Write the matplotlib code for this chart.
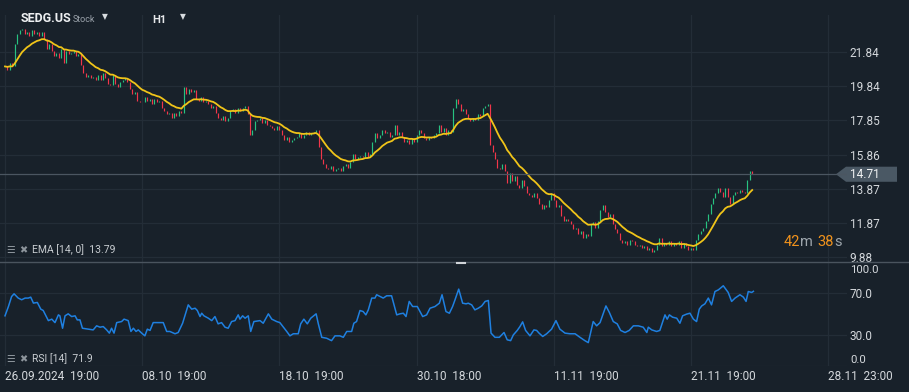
import numpy as np
import pandas as pd
import matplotlib
matplotlib.use("Agg")
import matplotlib.pyplot as plt
import matplotlib.transforms as mtransforms
from matplotlib.patches import Polygon
from matplotlib.lines import Line2D

plt.rcParams['font.family'] = ['Roboto', 'DejaVu Sans']

# hourly closes, one row ~ one trading day
closes = [
    21.0, 20.8, 21.2, 21.0, 22.3, 22.9, 23.1,
    23.2, 22.9, 23.0, 22.8, 23.1, 22.9, 23.0,
    22.8, 23.0, 22.6, 22.0, 22.3, 21.9, 21.6,
    21.8, 21.5, 22.0, 21.2, 21.9, 21.7, 21.8,
    21.9, 21.6, 21.7, 21.1, 20.6, 20.4, 20.5,
    20.3, 20.4, 20.2, 20.5, 20.2, 20.6, 20.3,
    20.0, 19.9, 20.5, 20.0, 19.8, 20.1, 20.2,
    20.3, 20.1, 19.7, 19.4, 19.5, 19.0, 18.9,
    18.9, 19.2, 19.0, 19.1, 18.8, 19.1, 18.9,
    19.0, 18.6, 18.4, 18.2, 18.3, 18.0, 18.3,
    18.1, 18.4, 18.3, 19.8, 19.4, 19.7, 19.5,
    19.6, 19.1, 19.0, 19.2, 18.9, 19.0, 18.8,
    18.6, 18.7, 18.3, 18.0, 17.9, 18.1, 17.8,
    18.0, 18.4, 18.5, 18.3, 18.6, 18.4, 18.6,
    18.7, 18.2, 17.0, 17.3, 17.8, 17.9, 18.0,
    17.7, 17.9, 17.6, 17.5, 17.4, 17.3, 17.5,
    17.3, 17.0, 16.7, 16.9, 16.6, 16.7, 16.8,
    16.9, 17.1, 16.8, 17.0, 17.2, 17.0, 17.1,
    17.2, 17.3, 16.3, 15.6, 15.3, 15.1, 15.0,
    15.2, 14.9, 15.0, 15.1, 14.9, 15.2, 15.3,
    15.1, 15.4, 15.9, 15.6, 15.7, 15.8, 15.7,
    16.0, 15.7, 15.9, 16.6, 17.1, 16.8, 17.0,
    17.3, 17.1, 17.2, 16.9, 17.0, 17.6, 17.0,
    17.2, 16.9, 16.6, 16.7, 16.5, 16.8, 16.6,
    17.0, 17.3, 17.1, 16.8, 16.7, 16.9, 16.8,
    17.0, 17.1, 17.6, 17.2, 17.4, 17.0, 17.3,
    17.2, 18.6, 19.1, 18.8, 18.4, 18.5, 18.2,
    18.0, 17.8, 18.0, 17.9, 18.2, 18.1, 18.6,
    18.7, 18.8, 16.4, 16.0, 15.6, 15.1, 15.0,
    15.3, 14.9, 14.2, 14.8, 14.3, 14.6, 14.1,
    13.9, 14.4, 14.0, 13.6, 13.5, 13.4, 13.6,
    13.3, 13.0, 12.7, 12.9, 12.8, 13.2, 13.6,
    13.2, 12.8, 12.9, 12.3, 12.0, 12.1, 12.0,
    11.8, 11.5, 11.6, 11.2, 11.4, 11.0, 11.2,
    11.1, 11.8, 11.9, 11.6, 12.0, 12.6, 12.9,
    12.5, 12.2, 12.4, 11.8, 11.5, 11.3, 10.9,
    10.7, 10.8, 10.6, 10.9, 10.8, 10.6, 10.5,
    10.6, 10.4, 10.5, 10.3, 10.4, 10.2, 10.3,
    10.6, 11.0, 10.5, 10.7, 10.6, 10.8, 10.5,
    10.7, 10.6, 10.8, 10.4, 10.7, 10.5, 10.3,
    10.4, 10.3, 10.9, 11.2, 11.4, 11.6, 12.0,
    12.4, 13.0, 13.3, 13.6, 13.9, 13.7, 13.4,
    13.9, 13.4, 13.0, 13.5, 13.7, 13.6, 13.8,
    13.7, 13.6, 14.4, 14.9, 14.71,
]

# RSI(14): candle index, value
rsi_idx = [0, 1.4, 2.7, 3.7, 5.4, 6.8, 8.2, 9.5, 10.5, 11.6, 13.2, 14.6, 15.6,
           17.7, 19.1, 20.4, 21.8, 22.4, 23.5, 24.5, 25.8, 27.2, 28.6, 29.5,
           30.6, 31.6, 34.0, 36.0, 37.4, 38.8, 40.1, 41.5, 42.6, 43.5, 44.5,
           45.6, 47.6, 48.6, 50.3, 51.4, 52.4, 53.5, 54.4, 55.8, 57.1, 58.1,
           59.2, 60.5, 63.3, 64.6, 66.0, 67.3, 69.4, 70.7, 72.5, 74.8, 76.2,
           77.6, 78.5, 79.6, 80.3, 81.2, 83.0, 84.4, 85.7, 87.0, 88.4, 89.8,
           91.1, 92.5, 93.9, 95.2, 95.9, 97.0, 98.0, 99.3, 100.3, 101.6, 104.1,
           105.4, 107.5, 108.9, 110.9, 112.2, 115.0, 116.3, 117.7, 119.7, 120.7,
           122.0, 123.4, 124.8, 127.0, 127.9, 129.3, 131.3, 133.3, 134.7, 136.7,
           138.1, 139.5, 141.5, 142.4, 143.5, 144.9, 146.2, 147.3, 148.3, 149.7,
           151.0, 151.7, 153.1, 154.4, 155.8, 157.8, 159.9, 161.2, 162.6, 163.7,
           165.0, 166.4, 168.3, 170.5, 172.1, 173.5, 175.5, 177.3, 178.4, 180.0,
           181.4, 182.7, 183.7, 185.2, 186.8, 188.2, 189.1, 190.5, 191.8, 193.2,
           194.6, 196.0, 197.3, 198.4, 200.0, 201.8, 203.7, 205.0, 206.4, 207.5,
           209.1, 210.2, 211.3, 212.5, 214.3, 215.9, 217.0, 218.0, 219.5, 221.1,
           223.1, 224.9, 226.5, 228.6, 230.6, 232.7, 234.7, 236.7, 238.1, 240.1,
           241.5, 242.9, 245.3, 246.7, 248.3, 249.9, 251.3, 253.1, 254.8, 256.5,
           258.5, 260.5, 262.0, 262.6, 264.0, 266.0, 267.3, 269.4, 270.3, 271.2,
           272.5, 274.2, 275.5, 276.6, 278.2, 279.6, 281.0, 282.3, 283.4, 284.4,
           285.7, 287.1, 288.4, 289.8, 291.2, 293.2, 295.2, 296.6, 298.0, 300.0,
           301.4, 302.5, 303.4, 304.8, 305.5]
rsi_val = [48.4, 57.3, 66.9, 69.5, 65.4, 63.8, 65.4, 65.4, 66.3, 60.6, 61.2, 54.8, 53.5,
           43.8, 45.2, 41.9, 49.3, 48.4, 36.5, 48.4, 50.3, 47.7, 48.4, 44.5,
           44.5, 36.5, 35.6, 34.9, 38.8, 37.5, 38.1, 34.9, 31.8, 36.5, 31.8,
           41.9, 42.9, 45.2, 43.8, 33.4, 36.5, 33.4, 34.9, 31.8, 29.2, 35.6,
           34.4, 41.9, 41.9, 41.9, 33.4, 33.4, 31.2, 32.4, 41.3, 58.9, 54.8,
           55.7, 53.5, 47.7, 50.9, 48.4, 46.1, 43.8, 47.7, 40.7, 41.9, 37.5,
           36.5, 42.9, 43.8, 49.3, 45.2, 48.4, 46.1, 48.4, 33.4, 42.9, 43.8,
           41.3, 50.3, 45.2, 42.9, 41.9, 33.4, 29.2, 31.2, 31.2, 40.7,
           45.2, 40.7, 46.1, 50.3, 40.7, 27.8, 26.9, 24.6, 29.2, 29.2,
           27.8, 33.4, 33.4, 41.3, 42.9, 53.5, 52.5, 49.3, 54.1, 65.4,
           65.4, 68.6, 67.0, 65.4, 67.6, 67.6, 49.3, 50.3, 50.9, 47.7,
           62.2, 57.3, 57.3, 47.7, 49.3, 55.7, 57.3, 60.5, 68.6, 52.5,
           50.9, 57.3, 63.8, 74.0, 60.5, 59.9, 60.5, 58.9, 54.1, 55.7,
           57.9, 62.2, 63.1, 31.8, 27.8, 27.8, 32.4, 25.4, 24.6, 30.1,
           34.4, 38.1, 42.6, 34.4, 29.2, 34.9, 34.4, 31.8, 28.6, 31.2,
           35.6, 43.8, 35.6, 31.8, 31.2, 31.2, 27.8, 24.6, 22.7, 42.9,
           38.8, 41.9, 57.9, 51.6, 42.9, 40.7, 34.4, 32.4, 34.4, 38.8,
           38.8, 37.5, 32.4, 37.5, 34.9, 33.4, 34.4, 49.3, 45.2, 49.3,
           47.1, 46.1, 41.3, 48.4, 50.0, 50.9, 45.2, 42.9, 54.8, 57.9,
           59.9, 65.4, 58.9, 71.7, 73.3, 77.2, 70.8, 62.2, 65.4, 68.6,
           66.3, 62.2, 71.7, 70.8, 71.9]

price_ticks = [21.84, 19.84, 17.85, 15.86, 13.87, 11.87, 9.88]
rsi_ticks = [0, 30, 70, 100]
date_pos = [0, 56, 112, 168, 224, 280, 336]
date_labels = ['26.09.2024  19:00', '08.10  19:00', '18.10  19:00', '30.10  18:00',
               '11.11  19:00', '21.11  19:00', '28.11  23:00']
last_price = 14.71
ema_last = 13.79
rsi_last = 71.9

BG = '#18212a'
GRID = '#232d37'
UP = '#27c281'
DOWN = '#f2364a'
TXT = '#d4d8dc'
W, H = 909, 392

closes = np.array(closes)
opens = np.r_[closes[0], closes[:-1]]
idx = np.arange(len(closes))
ema = pd.Series(closes).ewm(span=14, adjust=False).mean()

fig = plt.figure(figsize=(W / 100, H / 100), dpi=100, facecolor=BG)
ax = fig.add_axes([0, 1 - 262 / H, 847 / W, 247 / H])
rx = fig.add_axes([0, 1 - 366.3 / H, 847 / W, 104.3 / H], sharex=ax)

for a in (ax, rx):
    a.set_facecolor(BG)
    for s in a.spines.values():
        s.set_visible(False)
    a.grid(True, color=GRID, lw=0.9)
    a.set_axisbelow(True)
    a.yaxis.tick_right()
    a.tick_params(length=0, labelsize=8.5, labelcolor=TXT, pad=2)

# candles
lo = np.minimum(opens, closes)
hi = np.maximum(opens, closes)
hi = np.maximum(hi, lo + 0.05)
cols = [UP if c >= o else DOWN for o, c in zip(opens, closes)]
ax.vlines(idx, lo, hi, colors=cols, linewidth=0.85)
ax.plot(idx, ema, color='#f0c419', lw=1.3)

ax.set_xlim(-2.04, 343.7)
ax.set_ylim(9.59, 24.0)
ax.set_xticks(date_pos)
ax.tick_params(axis='x', labelbottom=False)
ax.set_yticks(price_ticks)
ax.set_yticklabels([f'{v:.2f}' for v in price_ticks])

# last price line + tag
ax.axhline(last_price, color='#4b5661', lw=0.9)
tr = mtransforms.blended_transform_factory(fig.transFigure, ax.transData)
hh = 0.44
tag = Polygon([(836 / W, last_price), (846 / W, last_price + hh), (897 / W, last_price + hh),
               (897 / W, last_price - hh), (846 / W, last_price - hh)],
              closed=True, transform=tr, facecolor='#4a5864', edgecolor='none', clip_on=False)
ax.add_patch(tag)
ax.text(850 / W, last_price, f'{last_price:.2f}', transform=tr, va='center', ha='left',
        color='#f2f4f5', fontsize=8.5, clip_on=False)

# RSI panel
rx.plot(rsi_idx, rsi_val, color='#1f80e0', lw=1.1)
rx.set_ylim(0, 100)
rx.set_yticks(rsi_ticks)
rx.set_yticklabels(['' if v in (0, 100) else f'{v:.1f}' for v in rsi_ticks])
# end labels sit just inside the panel
rtr = mtransforms.blended_transform_factory(fig.transFigure, rx.transData)
for v, dy in [(100, -8.0), (0, 6.3)]:
    off = mtransforms.ScaledTranslation(0, dy / 100, fig.dpi_scale_trans)
    rx.text(850 / W, v, f'{v:.1f}', transform=rtr + off, va='center', ha='left',
            color=TXT, fontsize=8.2, clip_on=False)
rx.set_xticks(date_pos)
rx.set_xticklabels(date_labels, ha='left')
rx.tick_params(axis='x', pad=3)

# separator and handle
fig.add_artist(Line2D([0, 1], [1 - 262 / H, 1 - 262 / H], transform=fig.transFigure,
                      color='#4a545e', lw=1.0))
fig.add_artist(Line2D([457 / W, 465 / W], [1 - 263 / H, 1 - 263 / H], transform=fig.transFigure,
                      color='#d0d4d8', lw=1.5))

# header
fig.text(21 / W, 1 - 18 / H, 'SEDG.US', color='#eef0f2', fontsize=9, fontweight='bold', va='center')
fig.text(73 / W, 1 - 19 / H, 'Stock', color='#9aa2aa', fontsize=6.5, va='center')
fig.text(102 / W, 1 - 17 / H, '\u25bc', color='#d8dcdf', fontsize=5.5, va='center')
fig.text(152 / W, 1 - 20 / H, 'H1', color='#e6e8ea', fontsize=8, fontweight='bold', va='center')
fig.text(180 / W, 1 - 17 / H, '\u25bc', color='#d8dcdf', fontsize=5.5, va='center')

# indicator legends
for yy, lab in [(250, f'EMA [14, 0]  {ema_last:.2f}'), (359, f'RSI [14]  {rsi_last:.1f}')]:
    fig.text(6 / W, 1 - yy / H, '\u2630', color='#8d959c', fontsize=7, va='center')
    fig.text(19 / W, 1 - yy / H, '\u2716', color='#8d959c', fontsize=7, va='center')
    fig.text(32 / W, 1 - yy / H, lab, color='#c8cdd1', fontsize=7.5, va='center')

# countdown
for xx, s, c in [(784, '42', '#f0921c'), (800, 'm', '#9ea6ad'), (817, '38', '#f0921c'), (834, 's', '#9ea6ad')]:
    fig.text(xx / W, 1 - 242 / H, s, color=c, fontsize=10.5, va='center')

fig.savefig('out.png', dpi=100, facecolor=BG)
